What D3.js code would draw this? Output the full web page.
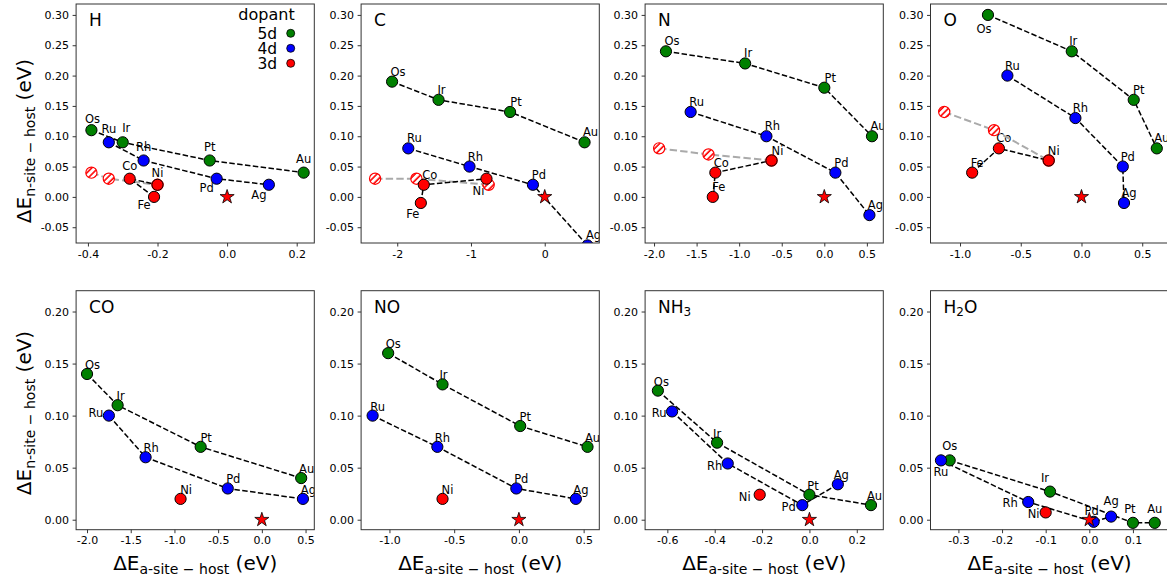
<!DOCTYPE html>
<html>
<head>
<meta charset="utf-8">
<script src="https://cdn.jsdelivr.net/npm/d3@7"></script>
<style>
  body { margin: 0; background: #fff; }
  text { font-family: "DejaVu Sans", sans-serif; fill: #000; white-space: pre; }
</style>
</head>
<body>
<svg id="fig" width="1167" height="582"></svg>
<script>
// Panels (adsorbates), reading order
var panels = ["H", "C", "N", "O", "CO", "NO", "NH3", "H2O"];

// Each point: [dopant, dE a-site - host (eV), dE n-site - host (eV)]
var H_5d = [["Os", -0.39, 0.11], ["Ir", -0.30, 0.09], ["Pt", -0.05, 0.06], ["Au", 0.22, 0.04]];
var H_4d = [["Ru", -0.34, 0.09], ["Rh", -0.24, 0.06], ["Pd", -0.03, 0.03], ["Ag", 0.12, 0.02]];
var H_3d = [["Fe", -0.21, 0.00], ["Co", -0.28, 0.03], ["Ni", -0.20, 0.02]];
var H_3dAlt = [[-0.39, 0.04], [-0.34, 0.03], [-0.20, 0.02]];

var C_5d = [["Os", -2.07, 0.19], ["Ir", -1.44, 0.16], ["Pt", -0.47, 0.14], ["Au", 0.54, 0.09]];
var C_4d = [["Ru", -1.85, 0.08], ["Rh", -1.02, 0.05], ["Pd", -0.16, 0.02], ["Ag", 0.58, -0.08]];
var C_3d = [["Fe", -1.68, -0.01], ["Co", -1.64, 0.02], ["Ni", -0.79, 0.03]];
var C_3dAlt = [[-2.30, 0.03], [-1.74, 0.03], [-0.76, 0.02]];

var N_5d = [["Os", -1.86, 0.24], ["Ir", -0.93, 0.22], ["Pt", 0.00, 0.18], ["Au", 0.56, 0.10]];
var N_4d = [["Ru", -1.57, 0.14], ["Rh", -0.68, 0.10], ["Pd", 0.13, 0.04], ["Ag", 0.53, -0.03]];
var N_3d = [["Fe", -1.31, 0.00], ["Co", -1.28, 0.04], ["Ni", -0.62, 0.06]];
var N_3dAlt = [[-1.94, 0.08], [-1.36, 0.07], [-0.62, 0.06]];

var O_5d = [["Os", -0.77, 0.30], ["Ir", -0.08, 0.24], ["Pt", 0.43, 0.16], ["Au", 0.62, 0.08]];
var O_4d = [["Ru", -0.61, 0.20], ["Rh", -0.05, 0.13], ["Pd", 0.34, 0.05], ["Ag", 0.35, -0.01]];
var O_3d = [["Fe", -0.90, 0.04], ["Co", -0.68, 0.08], ["Ni", -0.27, 0.06]];
var O_3dAlt = [[-1.13, 0.14], [-0.72, 0.11], [-0.27, 0.06]];

var CO_5d = [["Os", -2.00, 0.14], ["Ir", -1.65, 0.11], ["Pt", -0.70, 0.07], ["Au", 0.45, 0.04]];
var CO_4d = [["Ru", -1.75, 0.10], ["Rh", -1.33, 0.06], ["Pd", -0.39, 0.03], ["Ag", 0.47, 0.02]];
var CO_3d = [["Ni", -0.93, 0.02]];

var NO_5d = [["Os", -1.01, 0.16], ["Ir", -0.59, 0.13], ["Pt", 0.01, 0.09], ["Au", 0.53, 0.07]];
var NO_4d = [["Ru", -1.13, 0.10], ["Rh", -0.63, 0.07], ["Pd", -0.02, 0.03], ["Ag", 0.44, 0.02]];
var NO_3d = [["Ni", -0.59, 0.02]];

var NH3_5d = [["Os", -0.64, 0.124], ["Ir", -0.39, 0.074], ["Pt", 0.00, 0.024], ["Au", 0.26, 0.014]];
var NH3_4d = [["Ru", -0.58, 0.104], ["Rh", -0.345, 0.054], ["Pd", -0.03, 0.014], ["Ag", 0.12, 0.034]];
var NH3_3d = [["Ni", -0.21, 0.024]];

var H2O_5d = [["Os", -0.32, 0.057], ["Ir", -0.09, 0.027], ["Pt", 0.10, -0.003], ["Au", 0.15, -0.003]];
var H2O_4d = [["Ru", -0.34, 0.057], ["Rh", -0.14, 0.017], ["Pd", 0.01, -0.002], ["Ag", 0.05, 0.003]];
var H2O_3d = [["Ni", -0.10, 0.007]];

// axis limits and ticks
var xDomains = [[-0.434, 0.2506], [-2.49, 0.74], [-2.105, 0.693], [-1.243, 0.718],
                [-2.125, 0.60], [-1.219, 0.621], [-0.694, 0.312], [-0.364, 0.182]];
var yDomains = [[-0.076, 0.318], [-0.0096, 0.220]];
var xTicks = [[-0.4, -0.2, 0.0, 0.2], [-2, -1, 0], [-2.0, -1.5, -1.0, -0.5, 0.0, 0.5], [-1.0, -0.5, 0.0, 0.5],
              [-2.0, -1.5, -1.0, -0.5, 0.0, 0.5], [-1.0, -0.5, 0.0, 0.5], [-0.6, -0.4, -0.2, 0.0, 0.2], [-0.3, -0.2, -0.1, 0.0, 0.1]];
var xTickFormats = [".1f", "d", ".1f", ".1f", ".1f", ".1f", ".1f", ".1f"];
var yTicks = [[-0.05, 0.00, 0.05, 0.10, 0.15, 0.20, 0.25, 0.30], [0.00, 0.05, 0.10, 0.15, 0.20]];

var legendLabels = ["5d", "4d", "3d"];

var series5d = [H_5d, C_5d, N_5d, O_5d, CO_5d, NO_5d, NH3_5d, H2O_5d];
var series4d = [H_4d, C_4d, N_4d, O_4d, CO_4d, NO_4d, NH3_4d, H2O_4d];
var series3d = [H_3d, C_3d, N_3d, O_3d, CO_3d, NO_3d, NH3_3d, H2O_3d];
var series3dAlt = [H_3dAlt, C_3dAlt, N_3dAlt, O_3dAlt, null, null, null, null];

// Look
var colors = { "5d": "#008000", "4d": "#0000ff", "3d": "#ff0000" };
var colLeft = [76.1, 361.1, 645.1, 930.5];
var rowTop = [4, 290.7];
var plotW = 238.2, plotH = 239;
var markerR = 5.6;

// label offsets (px) relative to the marker centre
var labelOffsetDefault = { H: [0, -9.5], C: [6, -6], N: [6, -6], O: [5, -6], CO: [5.5, -5], NO: [5, -5], NH3: [3.5, -5], H2O: [0, -10] };
var labelNudge = {
  "H:Pd": [-10, 13], "H:Ag": [-10, 14.5], "H:Fe": [-10, 12.5], "H:Ir": [3.5, -10], "H:Os": [1, -7.5], "H:Ni": [0, -7.5], "H:Co": [0, -8.5],
  "C:Fe": [-8, 15.5], "C:Ni": [-8, 16.5], "C:Ir": [3, -6],
  "N:Ir": [3, -6],
  "O:Os": [-4, 18], "O:Ir": [1.5, -6],
  "CO:Ru": [-13, 1], "CO:Ir": [3, -5],
  "NO:Ir": [1, -5],
  "NH3:Ru": [-13, 6], "NH3:Rh": [-13, 6.3], "NH3:Pd": [-13.6, 6.3], "NH3:Ni": [-15, 6], "NH3:Ir": [0, -5],
  "H2O:Ru": [0, 16], "H2O:Rh": [-18, 5], "H2O:Ni": [-12, 5.6], "H2O:Ir": [-5, -10], "H2O:Pd": [-2, -7], "H2O:Ag": [0, -12], "H2O:Pt": [-3, -10]
};

var svg = d3.select("#fig");
var defs = svg.append("defs");

// hatch for the alternative 3d sites
var pat = defs.append("pattern").attr("id", "hatch")
  .attr("patternUnits", "userSpaceOnUse").attr("width", 4.5).attr("height", 4.5)
  .attr("patternTransform", "rotate(45)");
pat.append("rect").attr("width", 4.5).attr("height", 4.5).attr("fill", "#fff");
pat.append("line").attr("x1", 1).attr("y1", 0).attr("x2", 1).attr("y2", 4.5)
  .attr("stroke", "#ff0000").attr("stroke-width", 1.6);

function fixMinus(s) { return s.replace("\u2212", "-"); }

panels.forEach(function (name, i) {
  var row = Math.floor(i / 4), col = i % 4;
  var g = svg.append("g").attr("transform", "translate(" + colLeft[col] + "," + rowTop[row] + ")");

  var x = d3.scaleLinear().domain(xDomains[i]).range([0, plotW]);
  var y = d3.scaleLinear().domain(yDomains[row]).range([plotH, 0]);

  defs.append("clipPath").attr("id", "clip" + i)
    .append("rect").attr("width", plotW).attr("height", plotH);

  // axes
  var xf = d3.format(xTickFormats[i]);
  var xAxis = g.append("g").attr("transform", "translate(0," + plotH + ")")
    .call(d3.axisBottom(x).tickValues(xTicks[i]).tickSize(3.5).tickPadding(3.5)
      .tickFormat(function (d) { return fixMinus(xf(d)); }));
  var yf = d3.format(".2f");
  var yAxis = g.append("g")
    .call(d3.axisLeft(y).tickValues(yTicks[row]).tickSize(3.5).tickPadding(3.5)
      .tickFormat(function (d) { return fixMinus(yf(d)); }));
  [xAxis, yAxis].forEach(function (a) {
    a.select(".domain").remove();
    a.selectAll("text").attr("font-size", 11).attr("font-family", "DejaVu Sans").attr("fill", "#000");
    a.selectAll("line").attr("stroke", "#000").attr("stroke-width", 0.8);
  });

  var plot = g.append("g").attr("clip-path", "url(#clip" + i + ")");
  var line = d3.line().x(function (d) { return x(d[1]); }).y(function (d) { return y(d[2]); });

  // labels
  var pts = series5d[i].concat(series4d[i], series3d[i]);
  plot.selectAll("text.lab").data(pts).enter().append("text")
    .attr("class", "lab")
    .attr("x", function (d) { var o = labelNudge[name + ":" + d[0]] || labelOffsetDefault[name]; return x(d[1]) + o[0]; })
    .attr("y", function (d) { var o = labelNudge[name + ":" + d[0]] || labelOffsetDefault[name]; return y(d[2]) + o[1]; })
    .attr("text-anchor", "middle")
    .attr("font-size", 11.5)
    .text(function (d) { return d[0]; });

  // alternative 3d sites (hatched)
  var alt = series3dAlt[i];
  if (alt) {
    plot.append("path").datum(alt)
      .attr("d", d3.line().x(function (d) { return x(d[0]); }).y(function (d) { return y(d[1]); }))
      .attr("fill", "none").attr("stroke", "#aaaaaa").attr("stroke-width", 2)
      .attr("stroke-dasharray", "7.4,3.2");
  }

  // dashed trend lines
  [series5d[i], series4d[i], series3d[i]].forEach(function (s) {
    if (s.length < 2) return;
    plot.append("path").datum(s).attr("d", line)
      .attr("fill", "none").attr("stroke", "#000").attr("stroke-width", 1.5)
      .attr("stroke-dasharray", "5.5,2.4");
  });

  if (alt) {
    plot.selectAll("circle.alt").data(alt).enter().append("circle")
      .attr("class", "alt")
      .attr("cx", function (d) { return x(d[0]); })
      .attr("cy", function (d) { return y(d[1]); })
      .attr("r", markerR)
      .attr("fill", "url(#hatch)").attr("stroke", "#ff0000").attr("stroke-width", 1.2);
  }

  // markers
  [["5d", series5d[i]], ["4d", series4d[i]], ["3d", series3d[i]]].forEach(function (s) {
    plot.selectAll(null).data(s[1]).enter().append("circle")
      .attr("cx", function (d) { return x(d[1]); })
      .attr("cy", function (d) { return y(d[2]); })
      .attr("r", markerR)
      .attr("fill", colors[s[0]]).attr("stroke", "#000").attr("stroke-width", 1);
  });

  // host reference
  plot.append("path")
    .attr("d", d3.symbol().type(d3.symbolStar).size(62)())
    .attr("transform", "translate(" + x(0) + "," + y(0) + ")")
    .attr("fill", "#ff0000").attr("stroke", "#000").attr("stroke-width", 0.8);

  // frame
  g.append("rect").attr("width", plotW).attr("height", plotH)
    .attr("fill", "none").attr("stroke", "#333").attr("stroke-width", 1);

  // panel title with subscript digits
  var t = g.append("text").attr("x", 13).attr("y", 22).attr("font-size", 17);
  name.split(/(\d)/).forEach(function (part) {
    if (!part) return;
    if (/\d/.test(part)) {
      t.append("tspan").attr("font-size", 12).attr("dy", 3.5).text(part);
    } else {
      var sp = t.append("tspan").text(part);
      if (t.selectAll("tspan").size() > 1) sp.attr("dy", -3.5);
    }
  });

  // legend
  if (i === 0) {
    g.append("text").attr("x", 190.4).attr("y", 15.5).attr("text-anchor", "middle")
      .attr("font-size", 16).text("dopant");
    legendLabels.forEach(function (lab, k) {
      g.append("text").attr("x", 201).attr("y", 34.5 + k * 15).attr("text-anchor", "end")
        .attr("font-size", 15.5).text(lab);
      g.append("circle").attr("cx", 214.6).attr("cy", 29.3 + k * 15).attr("r", 4)
        .attr("fill", colors[lab]).attr("stroke", "#000").attr("stroke-width", 0.8);
    });
  }

  // y label
  if (col === 0) {
    var cy = row === 0 ? 141 : 413;
    var yl = svg.append("text").attr("transform", "translate(31," + cy + ") rotate(-90)")
      .attr("text-anchor", "middle").attr("font-size", 20);
    yl.append("tspan").text("\u0394E");
    yl.append("tspan").attr("font-size", 14).attr("dy", 4).text("n-site \u2212 host");
    yl.append("tspan").attr("dy", -4).text(" (eV)");
  }
  // x label
  if (row === 1) {
    var xl = svg.append("text").attr("x", colLeft[col] + plotW / 2).attr("y", 570)
      .attr("text-anchor", "middle").attr("font-size", 20);
    xl.append("tspan").text("\u0394E");
    xl.append("tspan").attr("font-size", 14).attr("dy", 4).text("a-site \u2212 host");
    xl.append("tspan").attr("dy", -4).text(" (eV)");
  }
});
</script>
</body>
</html>
